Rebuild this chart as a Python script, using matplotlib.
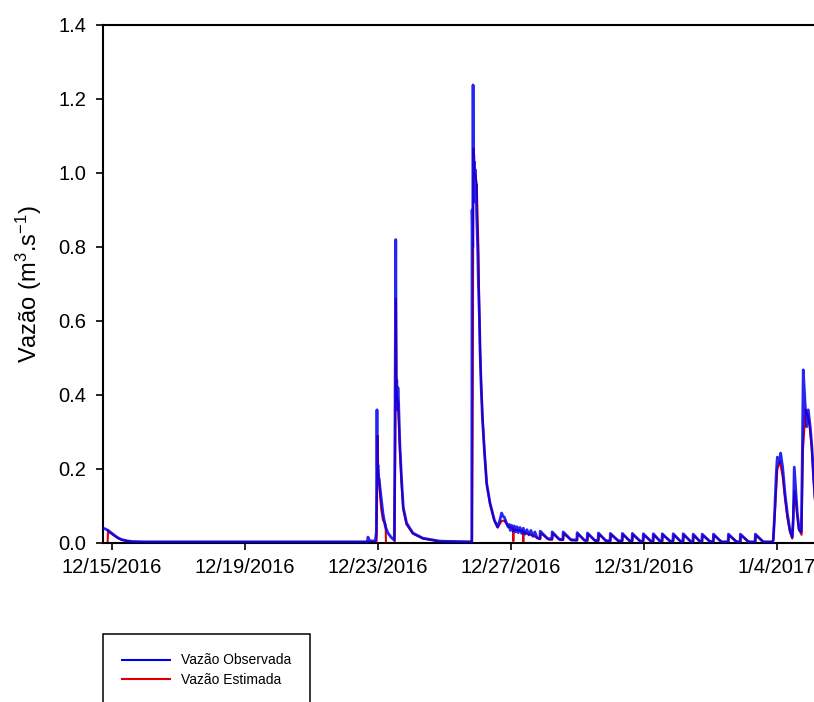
import matplotlib
matplotlib.use('Agg')
import matplotlib.pyplot as plt
import matplotlib.ticker as ticker
import pandas as pd

plt.rcParams['font.family'] = ['Liberation Sans', 'DejaVu Sans']
plt.rcParams['mathtext.fontset'] = 'custom'
plt.rcParams['mathtext.rm'] = 'Liberation Sans'
plt.rcParams['mathtext.it'] = 'Liberation Sans'

# ============================================================
# Dados (dias contados a partir de 15/12/2016 00:00)
# ============================================================

START = '2016-12-15'

obs_days = [
    -0.27, -0.20, -0.10, 0.00, 0.10, 0.20, 0.30, 0.45, 0.60, 1.00,
    7.68, 7.70, 7.72, 7.76, 7.92, 7.95, 7.97, 7.98, 8.00, 8.02, 8.04, 8.06, 8.10, 8.15, 8.22, 8.30, 8.40, 8.49,
    8.51, 8.535, 8.55, 8.565, 8.58, 8.60, 8.62, 8.66, 8.71, 8.76, 8.86, 9.05, 9.35, 9.86,
    10.80, 10.82, 10.83, 10.85, 10.86, 10.87, 10.88, 10.89, 10.90, 10.91, 10.92, 10.94, 10.95, 10.97,
    11.00, 11.02, 11.05, 11.07, 11.10, 11.14, 11.20, 11.27, 11.37, 11.50, 11.60, 11.66, 11.72, 11.76, 11.80, 11.86, 11.92,
    11.95, 11.98, 12.02, 12.06, 12.10, 12.14, 12.18, 12.22, 12.27, 12.32, 12.37, 12.42, 12.48, 12.54, 12.60, 12.66, 12.72, 12.78, 12.84,
    12.87, 12.88, 13.10, 13.23, 13.24, 13.45, 13.56, 13.57, 13.80, 13.98, 13.99, 14.20,
    14.29, 14.30, 14.52, 14.62, 14.63, 14.85, 14.98, 14.99, 15.22, 15.34, 15.35, 15.56,
    15.64, 15.65, 15.88, 15.97, 15.98, 16.20, 16.27, 16.28, 16.48, 16.54, 16.55, 16.78,
    16.87, 16.88, 17.10, 17.17, 17.18, 17.40, 17.47, 17.48, 17.68, 17.74, 17.75, 17.98,
    18.08, 18.09, 18.32, 18.53, 18.54, 18.78, 18.89, 18.90, 19.14, 19.34, 19.35, 19.58, 19.86,
    19.89, 19.92, 19.98, 20.01, 20.07, 20.11, 20.17, 20.24, 20.31, 20.39, 20.46, 20.49, 20.52,
    20.56, 20.61, 20.67, 20.73, 20.76, 20.79, 20.84, 20.89, 20.94, 21.00, 21.05, 21.10, 21.17, 21.30,
]
obs_flow = [
    0.040, 0.038, 0.033, 0.026, 0.019, 0.013, 0.009, 0.006, 0.004, 0.003,
    0.003, 0.016, 0.010, 0.006, 0.005, 0.030, 0.360, 0.200, 0.210, 0.180, 0.170, 0.150, 0.120, 0.080, 0.045, 0.027, 0.015, 0.008,
    0.300, 0.820, 0.380, 0.440, 0.360, 0.420, 0.380, 0.260, 0.170, 0.097, 0.054, 0.027, 0.013, 0.005,
    0.003, 0.005, 0.900, 0.800, 1.238, 0.950, 1.050, 0.980, 1.030, 0.930, 1.010, 0.920, 0.970, 0.880,
    0.790, 0.700, 0.610, 0.520, 0.430, 0.340, 0.250, 0.160, 0.108, 0.062, 0.043, 0.060, 0.081, 0.072, 0.070, 0.055, 0.043,
    0.050, 0.034, 0.048, 0.032, 0.046, 0.030, 0.044, 0.028, 0.042, 0.026, 0.040, 0.024, 0.036, 0.022, 0.034, 0.018, 0.030, 0.014, 0.012,
    0.012, 0.032, 0.012, 0.011, 0.030, 0.010, 0.010, 0.030, 0.009, 0.008, 0.028, 0.008,
    0.007, 0.027, 0.007, 0.007, 0.027, 0.006, 0.006, 0.026, 0.006, 0.006, 0.026, 0.006,
    0.006, 0.026, 0.005, 0.005, 0.025, 0.005, 0.005, 0.025, 0.005, 0.005, 0.025, 0.005,
    0.005, 0.025, 0.004, 0.004, 0.025, 0.004, 0.004, 0.024, 0.004, 0.004, 0.024, 0.004,
    0.004, 0.024, 0.003, 0.003, 0.024, 0.003, 0.003, 0.024, 0.003, 0.003, 0.024, 0.003, 0.003,
    0.008, 0.062, 0.190, 0.232, 0.216, 0.243, 0.205, 0.135, 0.081, 0.035, 0.016, 0.062, 0.205,
    0.151, 0.081, 0.035, 0.030, 0.220, 0.468, 0.386, 0.314, 0.360, 0.314, 0.260, 0.180, 0.090, 0.050,
]

est_days = [
    -0.27, -0.13, -0.12, -0.10, 0.00, 0.10, 0.20, 0.30, 0.45, 0.60,
    7.94, 7.96, 7.99, 8.01, 8.04, 8.07, 8.10, 8.15, 8.23, 8.24, 8.50, 8.52, 8.54, 8.56, 8.60,
    8.66, 8.71, 8.76, 8.86, 9.05, 9.35, 9.86,
    10.83, 10.85, 10.87, 10.90, 10.94, 10.97, 11.02, 11.05, 11.07, 11.10, 11.14, 11.20, 11.27, 11.37,
    11.50, 11.60, 11.72, 11.80, 11.92, 12.06, 12.07, 12.08, 12.20, 12.36, 12.37, 12.38, 12.60, 12.86,
    12.88, 12.90, 13.14, 13.24, 13.26, 13.48, 13.57, 13.59, 13.82, 13.99, 14.01, 14.23,
    14.30, 14.32, 14.55, 14.63, 14.65, 14.88, 14.99, 15.01, 15.25, 15.35, 15.37, 15.59,
    15.65, 15.67, 15.91, 15.98, 16.00, 16.23, 16.28, 16.30, 16.51, 16.55, 16.57, 16.81,
    16.88, 16.90, 17.13, 17.18, 17.20, 17.43, 17.48, 17.50, 17.71, 17.75, 17.77, 18.01,
    18.09, 18.11, 18.35, 18.54, 18.56, 18.81, 18.90, 18.92, 19.17, 19.35, 19.37, 19.61, 19.88,
    19.95, 20.01, 20.09, 20.17, 20.24, 20.31, 20.39, 20.46, 20.50, 20.53, 20.58,
    20.65, 20.74, 20.78, 20.86, 20.94, 21.00, 21.05, 21.10, 21.17, 21.30,
]
est_flow = [
    0.000, 0.000, 0.035, 0.030, 0.024, 0.018, 0.012, 0.008, 0.005, 0.003,
    0.003, 0.006, 0.290, 0.180, 0.160, 0.120, 0.090, 0.062, 0.050, 0.000, 0.000, 0.250, 0.660, 0.400, 0.380,
    0.250, 0.160, 0.090, 0.050, 0.025, 0.012, 0.004,
    0.003, 0.400, 1.067, 1.000, 0.990, 0.970, 0.800, 0.620, 0.530, 0.440, 0.350, 0.250, 0.160, 0.105,
    0.060, 0.042, 0.060, 0.060, 0.045, 0.040, 0.005, 0.036, 0.035, 0.032, 0.000, 0.028, 0.022, 0.012,
    0.010, 0.026, 0.009, 0.009, 0.025, 0.008, 0.008, 0.025, 0.007, 0.007, 0.024, 0.006,
    0.006, 0.023, 0.005, 0.005, 0.023, 0.005, 0.005, 0.022, 0.005, 0.005, 0.022, 0.005,
    0.005, 0.022, 0.004, 0.004, 0.021, 0.004, 0.004, 0.021, 0.004, 0.004, 0.021, 0.004,
    0.004, 0.021, 0.003, 0.003, 0.021, 0.003, 0.003, 0.020, 0.003, 0.003, 0.020, 0.003,
    0.003, 0.020, 0.003, 0.003, 0.020, 0.003, 0.003, 0.020, 0.003, 0.003, 0.020, 0.003, 0.003,
    0.100, 0.200, 0.220, 0.180, 0.120, 0.070, 0.030, 0.012, 0.100, 0.140, 0.100,
    0.040, 0.022, 0.250, 0.360, 0.340, 0.300, 0.250, 0.170, 0.080, 0.045,
]

tick_dates = ['2016-12-15', '2016-12-19', '2016-12-23', '2016-12-27', '2016-12-31', '2017-01-04']
y_ticks = [0.0, 0.2, 0.4, 0.6, 0.8, 1.0, 1.2, 1.4]

LABEL_OBS = 'Vazão Observada'
LABEL_EST = 'Vazão Estimada'

# ============================================================
# Grafico
# ============================================================

def to_time(days):
    return pd.Timestamp(START) + pd.to_timedelta(days, unit='D')

W, H = 814, 702
fig = plt.figure(figsize=(W / 100, H / 100), dpi=100)

x0 = pd.Timestamp(START) - pd.Timedelta(days=0.27)
x1 = pd.Timestamp(START) + pd.Timedelta(days=21.5)
px_per_day = 33.25
left_px, top_px, bottom_px = 103, 25, 543
width_px = 21.77 * px_per_day
ax = fig.add_axes([left_px / W, 1 - bottom_px / H, width_px / W, (bottom_px - top_px) / H])

ax.plot(to_time(est_days), est_flow, color='#dd0000', linewidth=1.5, zorder=2, label=LABEL_EST)
ax.plot(to_time(obs_days), obs_flow, color='#0000f0', linewidth=2.0, alpha=0.85, zorder=3, label=LABEL_OBS)

ax.set_xlim(x0, x1)
ax.set_ylim(0, 1.4)
ax.set_yticks(y_ticks)
ax.yaxis.set_major_formatter(ticker.FormatStrFormatter('%.1f'))

ticks = [pd.Timestamp(d) for d in tick_dates]
ax.set_xticks(ticks)
ax.set_xticklabels([f'{t.month}/{t.day}/{t.year}' for t in ticks])

ax.spines['right'].set_visible(False)
for s in ('left', 'bottom', 'top'):
    ax.spines[s].set_linewidth(1.5)
ax.tick_params(direction='out', length=5, width=1.2, labelsize=14.5, pad=6,
               top=False, right=False)
ax.tick_params(axis='y', pad=7)

ax.set_ylabel(r'Vazão (m$^{3}$.s$^{-1}$)', fontsize=17)
ax.yaxis.set_label_coords((44 - left_px) / width_px, 0.5)

h, l = ax.get_legend_handles_labels()
leg = fig.legend(h[::-1], l[::-1], loc='upper left',
                 bbox_to_anchor=(left_px / W, 1 - 634 / H), borderaxespad=0,
                 fontsize=10, frameon=True, fancybox=False, edgecolor='black',
                 framealpha=1, handlelength=3.4, handletextpad=0.8,
                 borderpad=1.4, labelspacing=0.4)
leg.get_frame().set_linewidth(1.1)
for line in leg.get_lines():
    line.set_alpha(1)
    line.set_linewidth(1.5)

fig.savefig('out.png', dpi=100)
